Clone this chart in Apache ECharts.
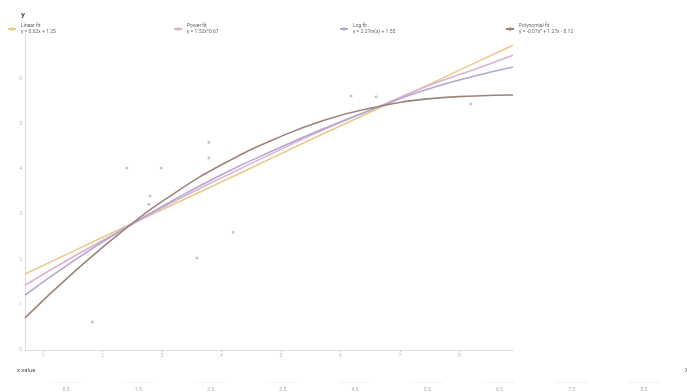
<!DOCTYPE html>
<html>
<head>
<meta charset="utf-8">
<script src="https://cdn.jsdelivr.net/npm/echarts@6/dist/echarts.min.js"></script>
<style>
  html, body { margin: 0; padding: 0; background: #fff; }
  #chart { width: 687px; height: 392px; }
</style>
</head>
<body>
<div id="chart"></div>
<script>
// Observations
const obsX = [1.83, 2.41, 2.99, 2.80, 2.78, 3.79, 3.79, 3.59, 4.20, 6.18, 6.60, 8.19];
const obsY = [0.62, 4.02, 4.02, 3.40, 3.22, 4.59, 4.24, 2.03, 2.60, 5.61, 5.59, 5.43];

// Fitted curves, sampled along x
const fitX = [0.70, 1.54, 2.38, 3.22, 4.06, 4.90, 5.74, 6.58, 7.42, 8.26, 8.90];
const linearY = [1.68, 2.20, 2.72, 3.23, 3.75, 4.27, 4.79, 5.30, 5.82, 6.34, 6.73];
const powerY  = [1.43, 2.08, 2.69, 3.29, 3.84, 4.37, 4.88, 5.34, 5.81, 6.20, 6.51];
const logY    = [1.21, 1.99, 2.69, 3.33, 3.91, 4.42, 4.90, 5.34, 5.74, 6.05, 6.25];
const polyY   = [0.71, 1.74, 2.67, 3.47, 4.13, 4.66, 5.08, 5.36, 5.54, 5.61, 5.63];

const fitNames = [
  'Linear fit\ny = 0.62x + 1.25',
  'Power fit\ny = 1.52x^0.67',
  'Log fit\ny = 2.21ln(x) + 1.55',
  'Polynomial fit\ny = -0.07x² + 1.27x - 0.12'
];
const fitColors = ['#e8ca8a', '#d9b3cf', '#b5a7cf', '#9d8479'];

const bottomLabels = ['0.5', '1.5', '2.5', '3.5', '4.5', '5.5', '6.5', '7.5', '8.5'];

const zip = (xs, ys) => xs.map((x, i) => [x, ys[i]]);
const fitSets = [linearY, powerY, logY, polyY];

const chart = echarts.init(document.getElementById('chart'));
chart.setOption({
  animation: false,
  textStyle: { fontFamily: 'Roboto, sans-serif' },
  title: [
    { text: 'x value', left: 12, top: 362, textStyle: { fontSize: 6, color: '#555', fontWeight: 'normal' } },
    { text: 'x', left: 680, top: 362, textStyle: { fontSize: 7, color: '#555', fontWeight: 'normal' } }
  ],
  legend: {
    top: 18,
    left: 2,
    itemGap: 0,
    itemWidth: 8,
    itemHeight: 2,
    data: fitNames,
    textStyle: { fontSize: 5, color: '#666', lineHeight: 6, width: 152, padding: [0, 0, 0, 0] }
  },
  grid: [
    { left: 25, right: 174, top: 33, bottom: 42 },
    { left: 30, right: 7, top: 375, height: 1 }
  ],
  xAxis: [
    {
      gridIndex: 0, type: 'value', min: 0.7, max: 8.9, splitNumber: 9,
      axisLine: { lineStyle: { color: '#ddd' } },
      axisTick: { show: true, length: 2, lineStyle: { color: '#ccc' } },
      axisLabel: { fontSize: 5, color: '#bbb', margin: 3, showMinLabel: false, showMaxLabel: false },
      splitLine: { show: false }
    },
    {
      gridIndex: 1, type: 'category', data: bottomLabels,
      axisLine: { show: false }, axisTick: { show: false },
      axisLabel: {
        margin: 2, interval: 0,
        formatter: v => '{l|――――――――}\n{v|' + v + '}',
        rich: {
          l: { fontSize: 5, color: '#e2e2e2', lineHeight: 9 },
          v: { fontSize: 5, color: '#aaa' }
        }
      }
    }
  ],
  yAxis: [
    {
      gridIndex: 0, type: 'value', min: 0, max: 7, interval: 1,
      name: 'y', nameGap: 14,
      nameTextStyle: { fontSize: 8, color: '#555', fontWeight: 'bold', align: 'right' },
      axisLine: { show: true, lineStyle: { color: '#ddd' } },
      axisTick: { show: false },
      axisLabel: { fontSize: 5, color: '#bbb', margin: 3, formatter: v => (v === 7 ? '' : v) },
      splitLine: { show: false }
    },
    { gridIndex: 1, type: 'value', show: false }
  ],
  series: [
    {
      name: 'Observations', type: 'scatter', symbolSize: 3,
      itemStyle: { color: '#b8b8b8' },
      data: zip(obsX, obsY)
    },
    ...fitSets.map((ys, i) => ({
      name: fitNames[i], type: 'line', smooth: true, showSymbol: false,
      lineStyle: { width: 1.6, color: fitColors[i] },
      itemStyle: { color: fitColors[i] },
      data: zip(fitX, ys)
    })),
    {
      type: 'line', xAxisIndex: 1, yAxisIndex: 1, data: [], silent: true
    }
  ]
});
</script>
</body>
</html>
